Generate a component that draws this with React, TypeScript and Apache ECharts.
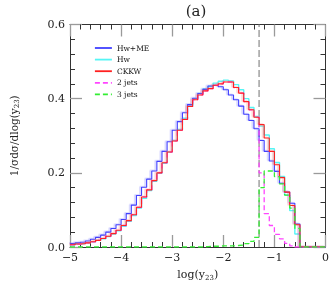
import React, { useEffect, useRef } from "react";
import * as echarts from "echarts";

// bin lower edges of log(y23)
const binStart = [
  -5.0, -4.9, -4.8, -4.7, -4.6, -4.5, -4.4, -4.3, -4.2, -4.1,
  -4.0, -3.9, -3.8, -3.7, -3.6, -3.5, -3.4, -3.3, -3.2, -3.1,
  -3.0, -2.9, -2.8, -2.7, -2.6, -2.5, -2.4, -2.3, -2.2, -2.1,
  -2.0, -1.9, -1.8, -1.7, -1.6, -1.5, -1.4, -1.3, -1.2, -1.1,
  -1.0, -0.9, -0.8, -0.7, -0.6, -0.5, -0.4, -0.3, -0.2, -0.1,
];
const lastEdge = 0;

const hwME = [
  0.009, 0.011, 0.013, 0.016, 0.021, 0.026, 0.032, 0.040, 0.050, 0.060,
  0.074, 0.090, 0.113, 0.139, 0.161, 0.183, 0.205, 0.231, 0.258, 0.284,
  0.315, 0.338, 0.362, 0.384, 0.401, 0.414, 0.425, 0.434, 0.436, 0.432,
  0.424, 0.410, 0.397, 0.380, 0.358, 0.341, 0.319, 0.287, 0.258, 0.232,
  0.204, 0.172, 0.148, 0.118, 0.062, 0, 0, 0, 0, 0,
];
const hw = [
  0.006, 0.008, 0.009, 0.011, 0.014, 0.018, 0.022, 0.028, 0.035, 0.044,
  0.056, 0.069, 0.085, 0.105, 0.131, 0.152, 0.177, 0.199, 0.226, 0.256,
  0.287, 0.317, 0.347, 0.381, 0.400, 0.414, 0.426, 0.433, 0.442, 0.447,
  0.450, 0.448, 0.438, 0.424, 0.400, 0.376, 0.352, 0.326, 0.302, 0.265,
  0.228, 0.190, 0.140, 0.098, 0.035, 0, 0, 0, 0, 0,
];
const ckkw = [
  0.006, 0.008, 0.009, 0.011, 0.014, 0.018, 0.023, 0.029, 0.036, 0.045,
  0.058, 0.071, 0.087, 0.107, 0.135, 0.154, 0.179, 0.200, 0.227, 0.256,
  0.286, 0.315, 0.344, 0.379, 0.397, 0.410, 0.421, 0.427, 0.436, 0.440,
  0.445, 0.445, 0.430, 0.415, 0.392, 0.370, 0.350, 0.330, 0.294, 0.258,
  0.222, 0.187, 0.148, 0.112, 0.060, 0, 0, 0, 0, 0,
];
const jets2 = [
  0.006, 0.008, 0.009, 0.011, 0.014, 0.018, 0.023, 0.029, 0.036, 0.045,
  0.058, 0.071, 0.087, 0.107, 0.135, 0.154, 0.179, 0.200, 0.227, 0.256,
  0.286, 0.315, 0.344, 0.379, 0.397, 0.410, 0.421, 0.427, 0.436, 0.440,
  0.445, 0.445, 0.430, 0.415, 0.392, 0.370, 0.350, 0.200, 0.090, 0.058,
  0.034, 0.022, 0.010, 0.003, 0, 0, 0, 0, 0, 0,
];
const jets3 = [
  0, 0, 0, 0, 0, 0, 0, 0, 0, 0,
  0, 0, 0, 0, 0, 0, 0, 0, 0, 0,
  0, 0, 0, 0, 0, 0, 0.001, 0.002, 0.002, 0.003,
  0.003, 0.003, 0.004, 0.005, 0.009, 0.015, 0.026, 0.160, 0.205, 0.205,
  0.190, 0.170, 0.140, 0.105, 0.050, 0, 0, 0, 0, 0,
];
const yCut = -1.3;

const xTicks = { min: -5, max: 0, interval: 1 };
const yTicks = { min: 0, max: 0.6, interval: 0.2 };

const FONT = "DejaVu Serif";

function toSteps(vals: number[]) {
  const pts: number[][] = binStart.map((x, i) => [x, vals[i]]);
  pts.push([lastEdge, vals[vals.length - 1]]);
  return pts;
}

export default function App() {
  const ref = useRef<HTMLDivElement>(null);
  useEffect(() => {
    if (!ref.current) return;
    const chart = echarts.init(ref.current, undefined, { renderer: "svg" });
    const minus = (v: number) => (v < 0 ? "\u2212" + Math.abs(v) : String(v));
    const tickCommon = {
      axisTick: { show: true, inside: true, length: 12, lineStyle: { color: "#9a9a9a", width: 1.3 } },
      minorTick: { show: true, splitNumber: 5, length: 5, lineStyle: { color: "#333", width: 1 } },
      splitLine: { show: false },
      minorSplitLine: { show: false },
      axisLine: { show: true, onZero: false, lineStyle: { color: "#333", width: 1 } },
    };
    const lineSeries = (name: string, vals: number[], color: string, extra: any = {}, z = 3) => ({
      name,
      type: "line",
      step: "end",
      data: toSteps(vals),
      symbol: "none",
      silent: true,
      lineStyle: { color, width: 1.1, ...extra },
      itemStyle: { color },
      z,
    });
    chart.setOption({
      animation: false,
      grid: { left: 63, top: 24.5, right: 2.7, bottom: 33, containLabel: false },
      graphic: [
        {
          type: "text",
          x: 196,
          y: 11,
          style: {
            text: "(a)",
            font: `15px '${FONT}'`,
            fill: "#222",
            textAlign: "center",
            textVerticalAlign: "middle",
          },
        },
      ],
      legend: {
        data: ["Hw+ME", "Hw", "CKKW", "2 jets", "3 jets"],
        orient: "vertical",
        left: 89,
        top: 39,
        itemWidth: 17,
        itemHeight: 8,
        itemGap: 3.6,
        itemStyle: { opacity: 0 },
        lineStyle: { width: 1.8 },
        textStyle: { fontFamily: FONT, fontSize: 7.5, color: "#111", lineHeight: 8 },
        selectedMode: false,
      },
      xAxis: [
        {
          type: "value",
          position: "bottom",
          ...xTicks,
          ...tickCommon,
          axisLabel: { formatter: minus, color: "#222", fontFamily: FONT, fontSize: 11, margin: 5 },
          name: "log(y{s|23})",
          nameLocation: "middle",
          nameGap: 21,
          nameTextStyle: {
            fontFamily: FONT,
            fontSize: 11,
            color: "#222",
            rich: { s: { fontSize: 7, fontFamily: FONT, color: "#222", verticalAlign: "bottom", padding: [6, 0, 0, 0] } },
          },
        },
        {
          type: "value",
          position: "top",
          ...xTicks,
          ...tickCommon,
          axisLabel: { show: false },
        },
      ],
      yAxis: [
        {
          type: "value",
          position: "left",
          ...yTicks,
          ...tickCommon,
          axisLabel: {
            formatter: (v: number) => v.toFixed(1),
            color: "#222",
            fontFamily: FONT,
            fontSize: 11,
            margin: 5,
          },
          name: "1/\u03c3d\u03c3/dlog(y{s|23})",
          nameLocation: "middle",
          nameGap: 50,
          nameRotate: 90,
          nameTextStyle: {
            fontFamily: FONT,
            fontSize: 10.5,
            color: "#222",
            rich: { s: { fontSize: 7, fontFamily: FONT, color: "#222", verticalAlign: "bottom", padding: [6, 0, 0, 0] } },
          },
        },
        {
          type: "value",
          position: "right",
          ...yTicks,
          ...tickCommon,
          axisLabel: { show: false },
        },
      ],
      series: [
        {
          name: "cut",
          type: "line",
          data: [
            [yCut, yTicks.min],
            [yCut, yTicks.max],
          ],
          symbol: "none",
          silent: true,
          lineStyle: { color: "#888", width: 1.2, type: [7, 3] },
          z: 2,
        },
        lineSeries("Hw", hw, "#55f5f5", { width: 1.4 }, 3),
        lineSeries("Hw+ME", hwME, "#4040ff", {
          shadowColor: "rgba(110,110,255,0.45)",
          shadowBlur: 0,
          shadowOffsetX: -1.5,
          shadowOffsetY: -0.5,
        }, 4),
        lineSeries("2 jets", jets2, "#ff44ff", { type: [5, 3], width: 1.3 }, 4),
        lineSeries("CKKW", ckkw, "#ff2020", {
          shadowColor: "rgba(255,100,100,0.45)",
          shadowBlur: 0,
          shadowOffsetX: -1.5,
          shadowOffsetY: -0.5,
        }, 5),
        lineSeries("3 jets", jets3, "#33ee33", { type: [5, 3], width: 1.3 }, 6),
      ],
    });
    return () => chart.dispose();
  }, []);
  return (
    <div
      ref={ref}
      style={{ position: "fixed", left: 0, top: 0, width: 332, height: 286 }}
    />
  );
}
